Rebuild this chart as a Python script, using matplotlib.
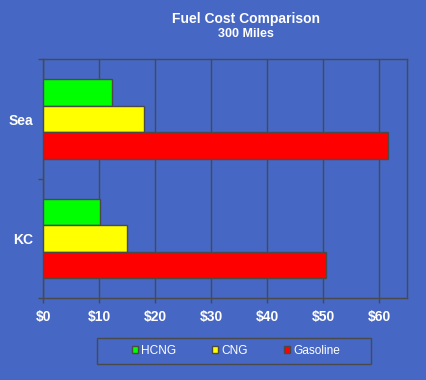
import matplotlib
matplotlib.use("Agg")
import matplotlib.pyplot as plt
import numpy as np
from matplotlib.patches import Rectangle

plt.rcParams['font.family'] = ['Liberation Sans', 'DejaVu Sans']

categories = ["KC", "Sea"]
series_names = ["HCNG", "CNG", "Gasoline"]
hcng = [10.2, 12.3]
cng = [14.9, 18.0]
gasoline = [50.4, 61.6]
colors = ["#00FF00", "#FFFF00", "#FF0000"]
xticks = [0, 10, 20, 30, 40, 50, 60]
xticklabels = ["$0", "$10", "$20", "$30", "$40", "$50", "$60"]

bg = "#4667C4"
dark = "#4A4A4A"
W, H = 427, 380
fig = plt.figure(figsize=(W / 100, H / 100), dpi=100, facecolor=bg)
ax = fig.add_axes([43.3 / W, 1 - 298.3 / H, 364 / W, 239 / H], facecolor=bg)

y = np.arange(len(categories))
h = 0.222
offsets = [h, 0, -h]
handles = []
for vals, name, col, off in zip([hcng, cng, gasoline], series_names, colors, offsets):
    b = ax.barh(y + off, vals, height=h, color=col, edgecolor=dark, linewidth=1.0,
                label=name, zorder=3)
    handles.append(b)

ax.set_xlim(0, 65)
ax.set_ylim(-0.5, 1.5)
ax.set_xticks(xticks)
ax.set_xticklabels(xticklabels)
ax.xaxis.grid(True, color=dark, linewidth=1.0, zorder=0)
ax.set_axisbelow(True)

ax.set_yticks([-0.5, 0.5, 1.5])
ax.set_yticklabels([])
ax.set_yticks(y, minor=True)
ax.set_yticklabels(categories, minor=True)
ax.tick_params(axis='y', which='major', length=3.5, color=dark, width=1, direction='out')
ax.tick_params(axis='y', which='minor', length=0, pad=7.5, labelcolor='white', labelsize=10)
ax.tick_params(axis='x', length=3.5, color=dark, width=1, direction='out', pad=5,
               labelcolor='white', labelsize=10)
for lab in ax.get_xticklabels() + ax.get_yticklabels(minor=True):
    lab.set_fontweight('bold')

for s in ax.spines.values():
    s.set_color(dark)
    s.set_linewidth(1.0)

fig.text(246 / W, 1 - 19 / H, "Fuel Cost Comparison", ha='center', va='center',
         color='white', fontsize=10, fontweight='bold')
fig.text(246 / W, 1 - 34 / H, "300 Miles", ha='center', va='center',
         color='white', fontsize=9, fontweight='bold')

# legend box
fig.patches.append(Rectangle((97 / W, 1 - 364 / H), 274 / W, 26 / H, transform=fig.transFigure,
                             facecolor='none', edgecolor=dark, linewidth=1.0))
leg = fig.legend(handles=handles, loc='center', bbox_to_anchor=(236 / W, 1 - 351 / H),
                 ncol=3, frameon=False, fontsize=8.6, handlelength=0.5, handleheight=0.5,
                 handletextpad=0.3, columnspacing=3.0, labelcolor='white')

fig.savefig("out.png", dpi=100, facecolor=bg)
